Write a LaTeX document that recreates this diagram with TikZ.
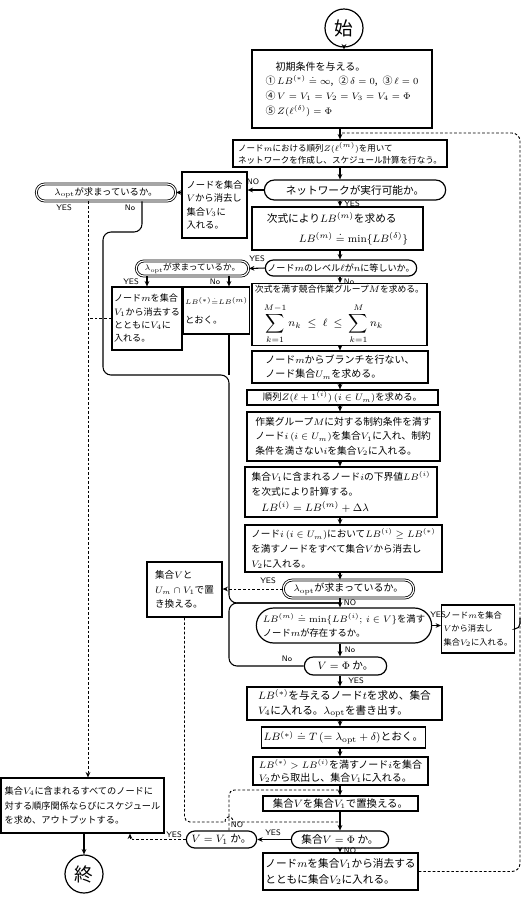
\documentclass[tikz,border=0pt]{standalone}
\usepackage{fontspec}
\newfontfamily\jp{Noto Sans CJK JP}
\usetikzlibrary{shapes.misc,arrows.meta}
\begin{document}
\begin{tikzpicture}[x=0.75pt,y=-0.75pt,
  every node/.style={font=\jp},
  fs/.style 2 args={font={\jp\fontsize{#1pt}{#2pt}\selectfont}},
  wh/.style 2 args={minimum width=#1*0.75pt, minimum height=#2*0.75pt},
  box/.style={draw, line width=0.9pt, rectangle, inner sep=1.5pt, align=left},
  dec/.style={draw, line width=0.9pt, rounded rectangle, inner sep=1pt, align=center},
  dbl/.style={double, double distance=0.9pt, line width=0.6pt},
  term/.style={draw, circle, line width=0.9pt, inner sep=0pt, minimum size=28.5pt, font={\jp\fontsize{14pt}{14pt}\selectfont}},
  arr/.style={line width=0.8pt, -{Stealth[length=4pt,width=3.5pt]}},
  ln/.style={line width=0.8pt},
  dsh/.style={line width=0.7pt, dash pattern=on 2pt off 1.5pt},
  lbl/.style={font={\sffamily\fontsize{6pt}{6pt}\selectfont}, inner sep=0.5pt}
]
\useasboundingbox (0,0) rectangle (528,901);

% helper coordinates
\coordinate (mc) at (340,0);
\coordinate (c88) at (88,0);
\coordinate (c229) at (229,0);
\coordinate (c130) at (130,0);
\coordinate (cr) at (520,0);
\coordinate (j3) at (340,133);
\coordinate (a1) at (142,232);
\coordinate (a2) at (103,232);
\coordinate (a3) at (103,375);
\coordinate (a4) at (229,375);
\coordinate (a5) at (229,603);
\coordinate (j20) at (340,603);
\coordinate (j26) at (340,790);
\coordinate (j27) at (340,822);
\coordinate (k21) at (520,618);
\coordinate (h1) at (225,822);
\coordinate (h2) at (233,822);

% nodes
\node[term] (start) at (344,28) {始};
\node[box, wh={180}{78}, fs={7.5}{11}] (init) at (342,89) {\quad 初期条件を与える。\\①\,$LB^{(*)}\doteq\infty$,\; ②\,$\delta=0$,\; ③\,$\ell=0$\\④\,$V=V_1=V_2=V_3=V_4=\Phi$\\⑤\,$Z(\ell^{(\delta)})=\Phi$};
\node[box, wh={214}{27}, fs={6.4}{9}] (n3) at (340,153.5) {ノード$m$における順列$Z(\ell^{(m)})$を用いて\\ネットワークを作成し、スケジュール計算を行なう。};
\node[dec, wh={184}{20}, fs={8}{10}] (n4) at (355,190) {ネットワークが実行可能か。};
\node[box, wh={65}{66}, fs={7}{10}] (n5) at (214.5,205) {ノードを集合\\$V$から消去し\\集合$V_3$に\\入れる。};
\node[dec, dbl, wh={142}{17}, fs={7}{9}] (n6) at (106,192.5) {$\lambda_{\mathrm{opt}}$が求まっているか。};
\node[box, wh={171}{43}, fs={8}{13}] (n7) at (337.5,228.5) {次式により$LB^{(m)}$を求める\\[2pt]\qquad\quad$LB^{(m)}\doteq\min\{LB^{(\delta)}\}$};
\node[dec, wh={154}{16}, fs={6.8}{9}] (n8) at (341,268) {ノード$m$のレベル$\ell$が$n$に等しいか。};
\node[dec, dbl, wh={115}{15}, fs={6.5}{8}] (n9) at (192.5,268.5) {$\lambda_{\mathrm{opt}}$が求まっているか。};
\node[box, wh={70}{63}, fs={6.8}{10}] (n10) at (147,318.5) {ノード$m$を集合\\$V_1$から消去する\\とともに$V_4$に\\入れる。};
\node[box, wh={57}{47}, fs={7}{12}, inner xsep=1pt] (n11) at (216.5,310.5) {{\fontsize{5.5pt}{7pt}\selectfont$LB^{(*)}{\doteq}LB^{(m)}$}\\[2pt]とおく。};
\node[box, wh={175}{55}, fs={6.6}{9}, inner sep=1pt] (n12) at (339.5,314.5) {次式を満す競合作業グループ$M$を求める。\\[7pt]\quad{\fontsize{8pt}{9pt}\selectfont$\displaystyle\sum_{k=1}^{M-1}n_k\;\leq\;\ell\;\leq\;\sum_{k=1}^{M}n_k$}};
\node[box, wh={176}{32}, fs={7.5}{11}] (n13) at (340,367) {ノード$m$からブランチを行ない、\\ノード集合$U_m$を求める。};
\node[box, wh={191}{15}, fs={7}{8}, inner ysep=0.5pt] (n14) at (342.5,397.5) {順列$Z(\ell+1^{(i)})\,(i\in U_m)$を求める。};
\node[box, wh={193}{49}, fs={7.3}{11}] (n15) at (343.5,436.5) {作業グループ$M$に対する制約条件を満す\\ノード$i\,(i\in U_m)$を集合$V_1$に入れ、制約\\条件を満さない$i$を集合$V_2$に入れる。};
\node[box, wh={192}{50}, fs={7.3}{11}] (n16) at (341,492) {集合$V_1$に含まれるノード$i$の下界値$LB^{(i)}$\\を次式により計算する。\\[1pt]\quad{\fontsize{8.5pt}{10pt}\selectfont$LB^{(i)}=LB^{(m)}+\Delta\lambda$}};
\node[box, wh={197}{47}, fs={7.2}{11}] (n17) at (343.5,548.5) {ノード$i\,(i\in U_m)$において$LB^{(i)}\geq LB^{(*)}$\\を満すノードをすべて集合$V$から消去し\\$V_2$に入れる。};
\node[dec, dbl, wh={133}{18}, fs={7.5}{9}] (n18) at (348.5,589) {$\lambda_{\mathrm{opt}}$が求まっているか。};
\node[box, wh={75}{55}, fs={7.2}{11}] (n19) at (184.5,589.5) {集合$V$と\\$U_m\cap V_1$で置\\き換える。};
\node[dec, wh={178}{35}, fs={7}{11}, align=left] (n20) at (344,625.5) {$LB^{(m)}\doteq\min\{LB^{(i)};\,i\in V\}$を満す\\ノード$m$が存在するか。};
\node[box, wh={70}{48}, fs={6.2}{10}] (n21) at (478,629) {ノード$m$を集合\\$V$から消去し\\集合$V_2$に入れる。};
\node[dec, wh={85}{18}, fs={8}{9}] (n22) at (345.5,666) {$V=\Phi$ か。};
\node[box, wh={195}{33}, fs={8}{11}] (n23) at (344.5,703.5) {$LB^{(*)}$を与えるノード$t$を求め、集合\\$V_4$に入れる。$\lambda_{\mathrm{opt}}$を書き出す。};
\node[box, wh={153}{21}, fs={8}{10}] (n24) at (343.5,737.5) {$LB^{(*)}\doteq T\,(=\lambda_{\mathrm{opt}}+\delta)$とおく。};
\node[box, wh={175}{28}, fs={7.5}{10}, inner ysep=0.8pt] (n25) at (340.5,771) {$LB^{(*)}>LB^{(i)}$を満すノード$i$を集合\\$V_2$から取出し、集合$V_1$に入れる。};
\node[box, wh={155}{15}, fs={7.8}{9}, inner ysep=0.5pt] (n26) at (340.5,803.5) {集合$V$を集合$V_1$で置換える。};
\node[dec, wh={100}{17}, fs={8}{9}] (n27) at (340,839.5) {集合$V=\Phi$ か。};
\node[dec, wh={73}{17}, fs={8}{9}] (n28) at (221.5,839.5) {$V=V_1$ か。};
\node[box, wh={163}{55}, fs={6.9}{11}] (n29) at (82.5,805.5) {集合$V_4$に含まれるすべてのノードに\\対する順序関係ならびにスケジュール\\を求め、アウトプットする。};
\node[box, wh={155}{37}, fs={8}{12}] (n31) at (340.5,871.5) {ノード$m$を集合$V_1$から消去する\\とともに集合$V_2$に入れる。};
\node[term] (end) at (84,874) {終};

% main column connectors
\draw[arr] (start.south) -- (start.south |- init.north);
\draw[arr] (init.south -| mc) -- (n3.north -| mc);
\draw[arr] (n3.south -| mc) -- (n4.north -| mc);
\draw[arr] (n4.west) -- (n4.west -| n5.east);
\draw[arr] (n5.west |- n6.east) -- (n6.east);
\draw[arr] (n4.south -| mc) -- (n7.north -| mc);
\draw[arr] (n7.south -| mc) -- (n8.north -| mc);
\draw[arr] (n8.west) -- (n9.east);
\draw[arr] (n9.south -| n10.north) -- (n10.north);
\draw[arr] (n9.south -| c229) -- (n11.north -| c229);
\draw[arr] (n8.south -| mc) -- (n12.north -| mc);
\draw[arr] (n12.south -| mc) -- (n13.north -| mc);
\draw[arr] (n13.south -| mc) -- (n14.north -| mc);
\draw[arr] (n14.south -| mc) -- (n15.north -| mc);
\draw[arr] (n15.south -| mc) -- (n16.north -| mc);
\draw[arr] (n16.south -| mc) -- (n17.north -| mc);
\draw[arr] (n17.south -| mc) -- (n18.north -| mc);
\draw[arr,dsh] (n18.west) -- (n18.west -| n19.east);
\draw[arr] (n18.south -| mc) -- (n20.north -| mc);
\draw[arr] (n20.east) -- (n20.east -| n21.west);
\draw[arr] (n20.south -| mc) -- (n22.north -| mc);
\draw[arr] (n22.south -| mc) -- (n23.north -| mc);
\draw[arr] (n23.south -| mc) -- (n24.north -| mc);
\draw[arr] (n24.south -| mc) -- (n25.north -| mc);
\draw[arr] (n25.south -| mc) -- (n26.north -| mc);
\draw[arr] (n26.south -| mc) -- (n27.north -| mc);
\draw[arr] (n27.west) -- (n28.east);
\draw[arr] (n27.south -| mc) -- (n31.north -| mc);
\draw[arr,dsh] (n28.west) -| (n29.south -| c130);
\draw[dsh, rounded corners=4pt] (n28.north -| c229) -- (c229 |- j26) -- (j26);
\draw[dsh] (n19.south) [rounded corners=4pt] -- (n19.south |- j27) [sharp corners] -- (h1) .. controls (225,815) and (233,815) .. (h2) -- (j27);
\draw[arr] (n29.south -| end) -- (end.north);

% left side
\draw[arr,dsh] (n6.south -| c88) -- (n29.north -| c88);
\draw[dsh] (n10.west) -- (n10.west -| c88);
\draw[ln, rounded corners=6pt] (n6.south -| a1) -- (a1) -- (a2) -- (a3) -- (a4) -- (a5) -- (j20);
\draw[ln] (n11.south -| a4) -- (a4);
\draw[ln, rounded corners=6pt] (n22.west) -- (n22.west -| a5) -- (a5) -- (j20);

% right loop
\draw[dsh, rounded corners=6pt] (n31.east) -- (n31.east -| cr) -- (cr |- j3) -- (j3);
\draw[ln, rounded corners=4pt] (n21.east) -- (n21.east -| cr) -- (k21);

% labels
\node[lbl] (l1) at (253,182) {NO};
\node[lbl] (l2) at (352,203.5) {YES};
\node[lbl] (l3) at (64,208) {YES};
\node[lbl] (l4) at (130,208) {No};
\node[lbl] (l5) at (257,259) {YES};
\node[lbl] (l6) at (131,282) {YES};
\node[lbl] (l7) at (215,282) {No};
\node[lbl] (l8) at (349,282) {No};
\node[lbl] (l9) at (268,581) {YES};
\node[lbl] (l10) at (350,603) {NO};
\node[lbl] (l11) at (438,615) {YES};
\node[lbl] (l12) at (350,650) {No};
\node[lbl] (l13) at (287,659) {No};
\node[lbl] (l14) at (356,681) {YES};
\node[lbl] (l15) at (273,833) {YES};
\node[lbl] (l16) at (350,851) {NO};
\node[lbl] (l17) at (174,835) {YES};
\node[lbl] (l18) at (237,825) {NO};
\end{tikzpicture}
\end{document}
